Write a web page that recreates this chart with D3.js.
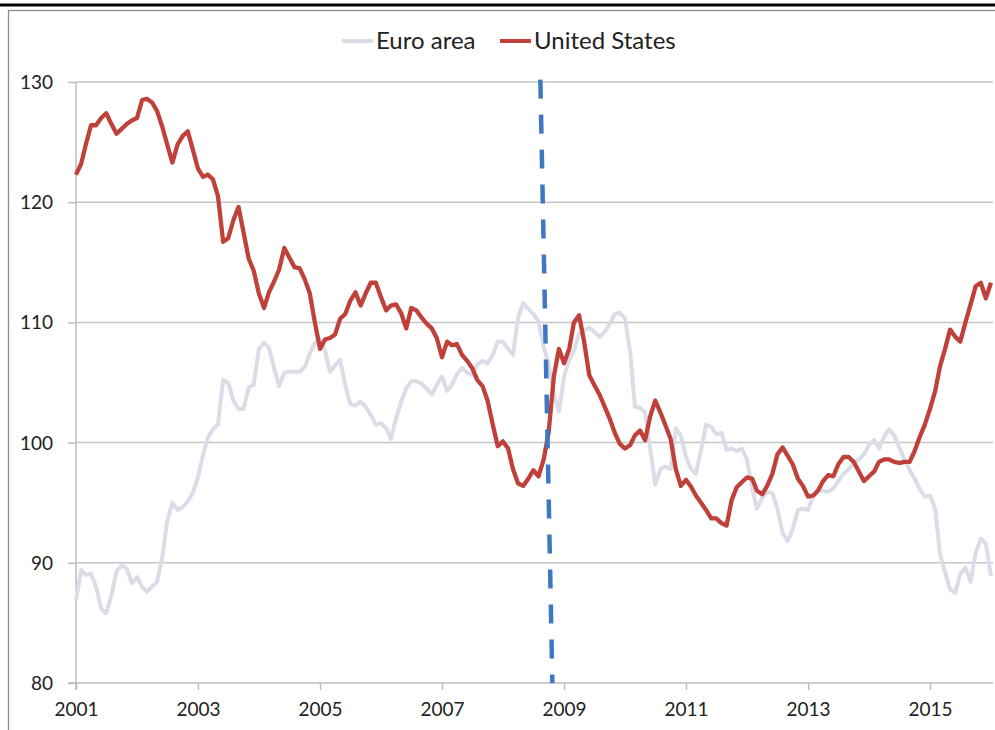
<!DOCTYPE html>
<html><head><meta charset="utf-8">
<script src="https://cdn.jsdelivr.net/npm/d3@7"></script>
<style>
html,body{margin:0;padding:0;background:#fff;}
svg{display:block;}
text{font-family:Lato,"Open Sans",sans-serif;fill:#222;}
</style></head>
<body>
<svg id="chart" width="995" height="730"></svg>
<script>
// ---- data (monthly, Jan 2001 – Jan 2016) ----
const startMonth = "2001-01-01";
const unitedStates = [
122.3,123.2,124.8,126.4,126.4,127.0,127.4,126.5,125.7,126.1,126.5,126.8,
127.0,128.5,128.6,128.3,127.6,126.3,124.8,123.3,124.8,125.5,125.9,124.4,
122.8,122.1,122.3,121.9,120.5,116.7,117.0,118.5,119.6,117.5,115.3,114.3,
112.4,111.2,112.5,113.4,114.4,116.2,115.4,114.6,114.5,113.6,112.4,110.0,
107.8,108.6,108.7,109.0,110.3,110.7,111.8,112.5,111.4,112.4,113.3,113.3,
112.1,111.0,111.4,111.5,110.8,109.5,111.2,111.0,110.4,109.9,109.5,108.7,
107.1,108.4,108.1,108.2,107.3,106.8,106.2,105.2,104.7,103.5,101.5,99.7,
100.1,99.5,97.8,96.6,96.4,97.0,97.7,97.2,98.6,100.9,105.5,107.8,
106.6,107.8,110.0,110.6,108.4,105.6,104.8,104.0,103.0,102.0,100.8,99.9,
99.5,99.8,100.6,101.0,100.2,102.2,103.5,102.5,101.4,100.3,97.8,96.4,
96.9,96.3,95.6,95.0,94.4,93.7,93.7,93.3,93.1,95.2,96.3,96.7,
97.1,97.0,96.0,95.7,96.4,97.4,99.0,99.6,98.9,98.2,97.0,96.4,
95.5,95.6,96.0,96.8,97.3,97.2,98.2,98.8,98.8,98.4,97.6,96.8,
97.2,97.6,98.4,98.6,98.6,98.4,98.3,98.4,98.4,99.3,100.5,101.5,
102.8,104.3,106.3,107.8,109.4,108.8,108.4,110.0,111.5,113.0,113.3,112.0,
113.3];
const euroArea = [
86.9,89.4,89.0,89.1,88.0,86.2,85.8,87.3,89.3,89.8,89.5,88.3,
88.8,88.0,87.6,88.0,88.4,90.4,93.5,95.0,94.4,94.6,95.1,95.8,
97.1,99.0,100.4,101.1,101.5,105.2,105.0,103.5,102.8,102.8,104.6,104.8,
107.8,108.3,107.9,106.2,104.7,105.8,105.9,105.9,105.9,106.3,107.4,108.3,
108.6,107.6,105.9,106.4,106.9,104.8,103.2,103.1,103.4,103.0,102.3,101.5,
101.6,101.2,100.3,102.0,103.4,104.5,105.1,105.1,104.9,104.5,104.0,104.8,
105.5,104.3,104.8,105.7,106.2,105.8,105.6,106.5,106.8,106.6,107.3,108.4,
108.4,107.8,107.3,110.4,111.6,111.1,110.7,110.1,108.0,106.5,104.0,102.6,
105.5,106.9,107.6,109.1,109.3,109.6,109.2,108.8,109.2,109.9,110.7,110.8,
110.3,107.5,103.0,102.9,102.5,99.5,96.5,97.8,98.0,97.8,101.2,100.6,
98.8,97.8,97.4,99.4,101.5,101.3,100.7,100.8,99.4,99.5,99.3,99.5,
98.6,96.2,94.5,95.4,95.9,95.8,94.5,92.5,91.8,92.8,94.4,94.5,
94.4,95.6,96.1,96.0,95.9,96.2,96.8,97.4,97.8,98.3,98.6,99.0,
99.8,100.2,99.5,100.5,101.1,100.6,99.6,98.6,97.7,97.0,96.1,95.5,
95.6,94.5,90.8,89.2,87.8,87.5,89.1,89.6,88.4,90.8,92.0,91.6,
88.9];
const seriesNames = ["Euro area", "United States"];
const yTicks = [80, 90, 100, 110, 120, 130];
const xTickLabels = ["2001","2003","2005","2007","2009","2011","2013","2015"];
const crisisTop = "2008-08-12", crisisBottom = "2008-10-23";

// ---- drawing ----
const svg = d3.select("#chart");
const parse = d3.utcParse("%Y-%m-%d");
const months = d3.utcMonth.range(parse(startMonth), d3.utcMonth.offset(parse(startMonth), unitedStates.length));

const x = d3.scaleUtc().domain([parse("2001-01-01"), parse("2016-01-13")]).range([76, 993]);
const y = d3.scaleLinear().domain([80, 130]).range([683, 82]);

// frame
svg.append("line").attr("x1",0).attr("x2",995).attr("y1",5).attr("y2",5).attr("stroke","#000").attr("stroke-width",3);
svg.append("rect").attr("x",8.5).attr("y",10.5).attr("width",1000).attr("height",730)
  .attr("fill","none").attr("stroke","#8c8c8c").attr("stroke-width",1.3);

// grid
svg.append("g").selectAll("line").data(yTicks.slice(1)).join("line")
  .attr("x1",76).attr("x2",993).attr("y1",d=>y(d)).attr("y2",d=>y(d))
  .attr("stroke","#c6c6c6").attr("stroke-width",1.5);

// y axis
const yAxis = svg.append("g").attr("transform","translate(76,0)")
  .call(d3.axisLeft(y).tickValues(yTicks).tickSize(8).tickPadding(15).tickFormat(d3.format("d")));
yAxis.select(".domain").attr("stroke","#bdbdbd").attr("stroke-width",1.5).attr("d","M0,82V690");
yAxis.selectAll(".tick line").attr("stroke","#bdbdbd").attr("stroke-width",1.5);
yAxis.selectAll(".tick text").attr("font-size",19).attr("fill","#222").attr("font-family","Lato").attr("dy","0.34em");

// x axis
const xTickDates = xTickLabels.map(s => parse(s + "-01-01"));
const xAxis = svg.append("g").attr("transform","translate(0,683)")
  .call(d3.axisBottom(x).tickValues(xTickDates).tickSize(7).tickPadding(13).tickFormat((d,i)=>xTickLabels[i]));
xAxis.select(".domain").attr("stroke","#bdbdbd").attr("stroke-width",1.5).attr("d","M68,0H993");
xAxis.selectAll(".tick line").attr("stroke","#bdbdbd").attr("stroke-width",1.5);
xAxis.selectAll(".tick text").attr("font-size",19).attr("fill","#222").attr("font-family","Lato");

// lines
const line = d3.line().x((d,i)=>x(months[i])).y(d=>y(d));
svg.append("path").datum(euroArea).attr("d",line).attr("fill","none")
  .attr("stroke","#dcdce8").attr("stroke-width",4).attr("stroke-linejoin","round");
svg.append("path").datum(unitedStates).attr("d",line).attr("fill","none")
  .attr("stroke","#c0403a").attr("stroke-width",4.3).attr("stroke-linejoin","round");

// crisis dashed line
svg.append("line")
  .attr("x1",x(parse(crisisTop))).attr("y1",y(130.2))
  .attr("x2",x(parse(crisisBottom))).attr("y2",y(80))
  .attr("stroke","#3f78c0").attr("stroke-width",4.5).attr("stroke-dasharray","19,16");

// legend
const legend = svg.append("g");
const colors = ["#dcdce8","#c0403a"];
const legX = [342, 500];
seriesNames.forEach((n,i)=>{
  legend.append("line").attr("x1",legX[i]).attr("x2",legX[i]+31).attr("y1",41).attr("y2",41)
    .attr("stroke",colors[i]).attr("stroke-width",4);
  legend.append("text").attr("x",legX[i]+34).attr("y",49).attr("font-size",24).text(n);
});
</script>
</body></html>
